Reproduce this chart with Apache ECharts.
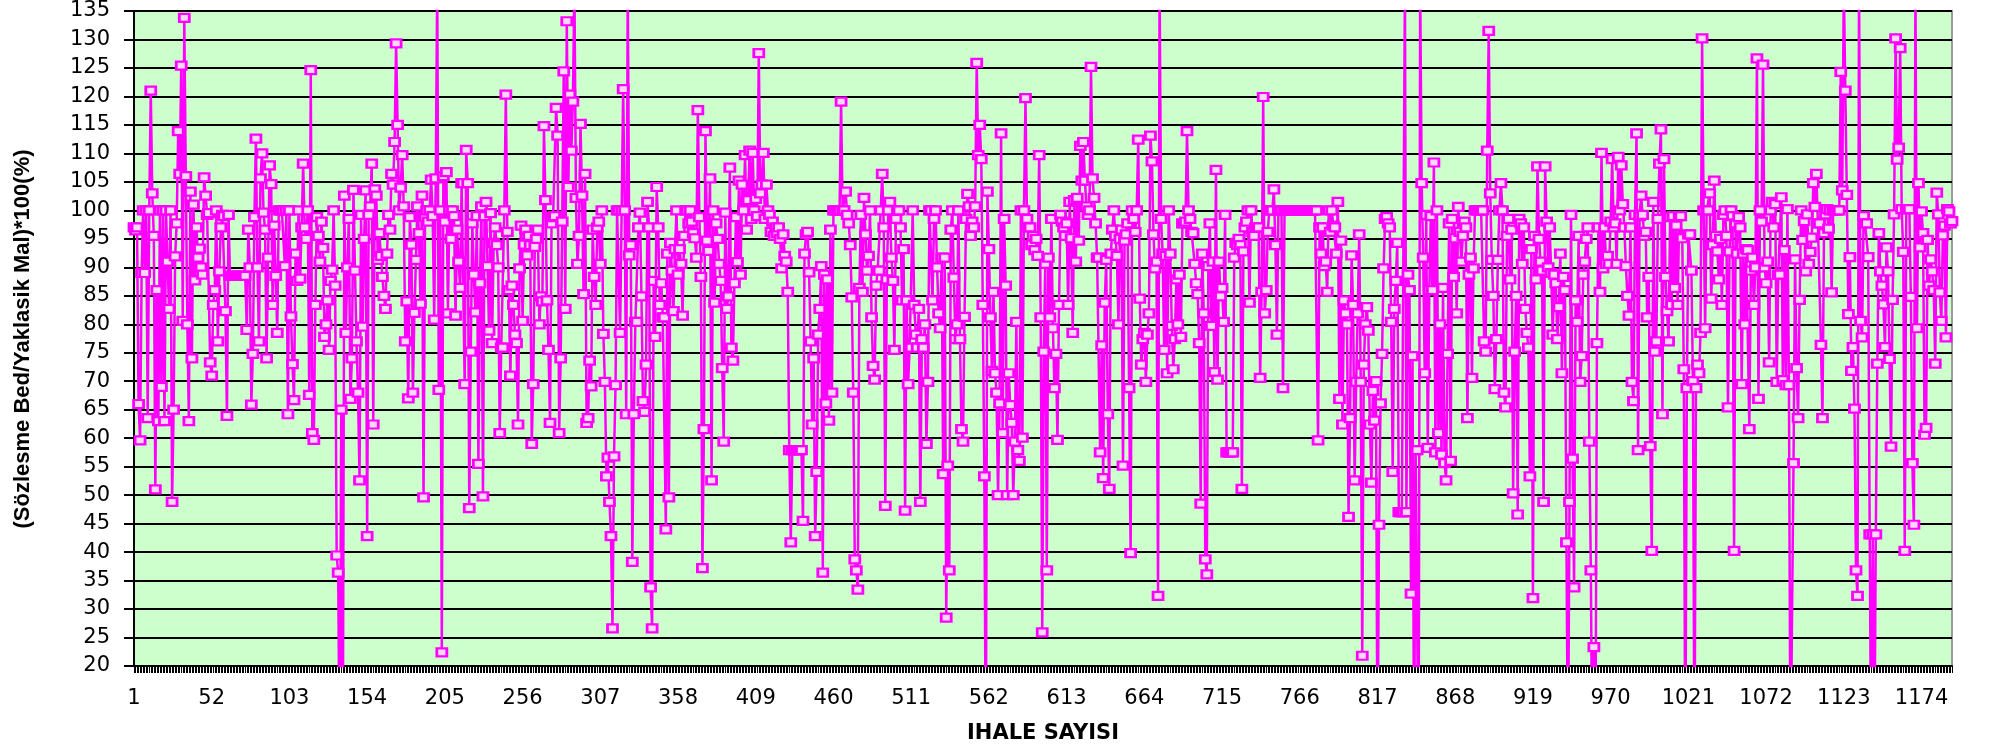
<!DOCTYPE html>
<html><head><meta charset="utf-8">
<script src="https://cdn.jsdelivr.net/npm/echarts@6/dist/echarts.min.js"></script>
<style>html,body{margin:0;padding:0;background:#fff}#c{width:2004px;height:749px}</style>
</head><body><div id="c"></div>
<script>
// values per stretch of the x axis (values below 20 / above 135 fall outside the plot)
const seg01 = [97,96.5,97,66,59.6,89,100,89,100,63.5, 100,121,103,95.5,51,86,63,100,69,100, 63,100,91,82.7,100,48.8,65,91.9,97.7,113.9, 106.4,125.4,80.6,133.8,106,80,63,103.3,74,101, 87.7,97,91.7,93.3,90,88.7,105.8,102.6,99.2,99.5, 73.3,71,83.4,86,100,77,89.3,97,99.2,99, 82.3,63.9,99.2,88.5,88.5,88.5,88.5,88.5,88.5,88.5, 88.5,88.5,88.5,88.5,79,96.6,90,65.9,74.8,98.8, 112.6,90,77,105.6,110,99.6,96.6,74,91.7,107.9, 104.6,83.4,97.3,88.5,78.5,100,100,100,100,90.2, 100,64.2,100,81.4,73,66.7,92.4,87.6];
const seg02 = [100,88,97,108.2,97,95,100,67.6,124.6,60.9, 59.7,83.4,98.8,95.5,91,98,93.4,77.8,80,84.2, 75.5,87.6,89.6,100,86.8,39.4,36.4,0,65,0, 102.6,78.5,90,98.5,66.9,74,103.6,89.4,77,68, 52.6,99.2,79.6,95,103.5,42.8,99.2,100.7,108.2,62.4, 103.7,102.6,91.3,96,92,88.3,85,82.7,92.4,99.2, 96.6,106.4,104.5,112,129.3,115,100,104,109.7,100.7, 77,84,67,98.8,94,68,82,91.3,100.7,96, 83.6,102.6,49.6,98.8,100,98,100,105.4,99,80.8, 105.6,140,68.5,100,22.4,106,98,106.7,81.9,100, 95,100,99,81.5,96.6,91,86.4,104.8];
const seg03 = [104.8,69.5,110.6,104.8,47.7,75.2,97.7,88.7,82.1,99, 55.5,87.2,100.7,49.8,99,101.5,90.2,78.9,99.5,76.7, 94.3,97,93.9,90,60.9,75.9,75.9,100,120.3,96.2, 86,71,86.8,83.4,78.2,76.7,62.4,89.8,97.3,80.6, 94,96.6,92.1,95.5,93.9,59,69.5,93.6,95,96.6, 80,84.9,84,114.8,101.8,84.2,75.5,62.7,97.7,98.8, 99,118,113.1,60.9,74,98,124.4,82.7,133.2,104.1, 120.3,110.5,119.1,140,102.2,90.6,95.5,115.2,102.6,85.3, 106.4,62.7,63.5,73.6,69.1,96.6,88.3,83.4,97,98, 90.6,100,78.3,69.9,53.3,56.6,48.8,42.8,26.6,56.8, 69.3,100,100,78.5,100,121.3,100,64.2];
const seg04 = [140,92.1,93.9,38.3,64.2,80.4,80.4,97,99.6,84.9, 66.5,64.6,72.9,101.5,97,33.8,26.6,87.6,77.8,104.1, 97,83.4,87.2,81.2,81.2,44,92.4,49.6,94.3,89.4, 82.3,93.2,100,88.7,93.2,90.6,81.5,95.5,100,100, 97.7,100,98,96,95.1,91.7,117.6,98.8,88.3,37.2, 61.6,113.9,94.7,92.9,105.6,52.6,100,83.8,97.7,95, 90.6,87.6,72.3,59.4,99.6,82.7,84.9,107.5,75.9,73.6, 87.2,98.8,90.9,105.2,88.7,104.5,100,109.7,96.6,101.8, 110.5,98.5,110.1,100,102,99,127.6,103,104.5,110.1, 98.5,104.5,100,99.2,96.2,98,95.5,97,96,97, 95,89.8,95.8,92,91,85.7,57.9,41.7];
const seg05 = [57.9,57.9,57.9,57.9,57.9,57.9,57.9,45.5,92.4,95.8, 96.2,89.1,77,62.4,74,42.8,54.1,78.2,82.7,90.2, 36.4,88.7,66.1,87.9,63.1,96.6,68,100,100,100, 100,100,119.1,100,100,103.3,99.2,97.7,93.9,84.7, 68,38.7,36.8,33.4,86.4,99.2,85.7,102.2,95.8,89.4, 92,100,81.2,72.7,70.3,86.8,89.4,89.4,100,106.4, 97,48.1,87.9,100,101.5,91.7,87.6,75.5,98.5,100, 100,97,84.2,93.2,47.3,84.2,69.5,75.9,75.9,100, 83.4,78.2,75.9,82.7,48.8,77.4,75.9,80,59,69.9, 100,100,84.2,98.5,100,90,81.9,79.3,91.7,53.7, 91.7,28.5,55.2,36.8,96.6,100,88.2,77.4];
const seg06 = [80,100,77.4,61.6,59.4,81.3,98.5,102.9,100.7,95.5, 98,97,100.7,125.9,109.7,115,109,83.4,53.3,0, 103.3,93.2,81.2,71.8,85.7,71.4,68,50,66.1,113.5, 60.9,98.5,86.8,50,71.4,65.8,62.7,50,59.4,80.4, 57.9,56,100,60.1,100,119.7,98.5,97,97,93.9, 95.5,93,95,92,109.7,81.2,25.9,75.2,90.6,36.8, 91.7,81.2,98.5,79.3,68.8,74.8,59.7,83.4,99.2,98, 97,95.5,97.7,83.4,101.5,95.1,78.5,101.8,91,102.2, 94.7,111.3,105.2,112,105.2,100.7,99.2,100,125.2,105.6, 102.2,97.7,91.7,91.7,57.5,76.3,53,83.8,91.3,64.2, 51.1,92.4,96.6,100,95.5,92,80,95];
const seg07 = [96.6,55.2,94.7,95.8,97.7,68.8,39.8,100,98.5,96.2, 100,112.4,84.5,72.9,77.4,78.5,69.9,78.2,81.9,113.1, 108.6,95.8,89.8,91,32.3,140,98.5,92.4,75.5,92, 71.4,100,92.4,79.7,72.1,77.4,87.9,80,88.7,77.8, 97.7,97.7,98,113.9,100,98.5,96.2,96,90.6,87.2, 85.3,76.7,48.5,92.4,81.9,38.7,36.1,90.2,97.7,79.7, 91,71.6,107.1,70.3,91,84.9,86.4,80.4,99.2,57.5, 57.5,57.5,57.5,57.5,91.7,94.3,93.9,95,93.9,51.1, 92.8,97,98,100,83.8,100,96.2,95.5,97,97, 97,70.6,85.7,119.9,81.9,86,96.2,100,100,100, 103.7,93.9,78.2,100,100,100,68.8,100];
const seg08 = [100,100,100,100,100,100,100,100,100,100, 100,100,100,100,100,100,100,100,100,100, 100,59.6,97,92.4,97,90.2,91,85.7,100,96.2, 100,97.3,97,92.4,101.5,66.9,94.7,62.4,84.2,81.9, 80,46.2,63.5,92.1,83.4,52.6,69.9,81.9,95.8,69.9, 21.8,72.9,80,83,78.9,62.4,52.2,68.3,63.1,70, 0,44.8,66.1,74.8,89.8,98.5,98.8,97.7,97,80.4, 54.1,82.7,87.6,94.3,47,47,47,47,140,47, 88.7,86,32.7,74.4,0,57.9,57.9,0,140,104.8, 91.7,71.4,99.2,58.3,86,99,86,108.4,57.5,100, 60.9,80,57.1,86.4,55.6,52.6,74.8,97.7];
const seg09 = [56,98.5,88.3,95.1,81.9,100.6,96.2,91,95.5,98, 97,63.5,88.7,91.7,70.6,89.8,100,100,100,100, 100,100,77,75.2,110.5,131.5,103,91.3,85,68.6, 77.4,91.3,100,104.8,100,68,65.4,95.5,98.5,87.9, 96.6,50.3,75.2,85,46.6,98.5,97.7,90.6,97,82.7, 78.5,75.9,53.3,93.2,31.9,95.5,87.9,107.7,95,91, 89.4,48.8,107.7,98,90,97,89,78.2,88.7,87.2, 77.4,83,92.4,71.4,88.3,86,41.7,0,48.8,99.2, 56.4,33.8,84.2,80.4,95.5,69.9,74.4,88.7,91,95, 97,59.4,36.8,0,23.3,0,76.7,97,85.7,110.1, 89.8,97,90.6,92,90.6,98,109,97];
const seg10 = [97.7,90.6,109.4,100,107.9,101.1,97,90.2,85,81.5, 97,69.9,66.5,99.2,113.5,57.9,99,102.6,99.2,95.5, 96.2,81.2,88.3,58.6,40.2,101.5,75.2,77,98.5,108.2, 114.2,64.2,109,88.3,82.3,77,98.8,83.4,99,86.4, 97.3,83.4,99,99,95.1,72.1,0,68.8,95.8,95.8, 89.4,70,0,68.8,72.9,71.4,78.5,130.2,100,79.3, 100,100,103,84.5,93.9,105.2,95.5,92.8,87.9,95, 83.4,99.2,100,95.5,65.4,92.8,100,99,40.2,97.7, 92.4,98.8,97,69.5,92.4,80,93.2,93,61.6,89.4, 91.7,83.4,90,126.7,66.9,100,98,125.6,90,87.2, 91,73.3,100,101.5,97,101.1,69.9,88.7];
const seg11 = [88.7,102.3,70.2,93,69.3,100.2,69.3,0,0,55.6, 91.4,72.3,63.5,84.3,100,94.8,98.1,89.3,99.3,90.6, 92.7,95.2,104.8,100.6,106.4,97.7,97.7,76.4,63.5,96, 99.3,100.2,96.8,100,85.6,100,100,100,100,100, 124.3,103.5,140,121,102.7,81.8,91.8,71.8,76,65.2, 36.8,32.3,140,80.6,77.7,99,97.7,97.7,91.8,43.1, 0,43.1,0,43.1,73.1,96,89.3,86.8,83.5,76, 93.5,89.3,73.9,58.5,84.3,99.3,130.2,108.9,111,128.5, 100.2,92.7,40.2,100.2,100.2,100.2,84.8,55.6,44.8,140, 79.3,104.8,93.5,99.8,96,60.6,61.8,94.8,86.8,91.4, 89.3,86,73.1,103.1,99.3,85.6,80.6,95.6,97.3,77.7, 100.2,99.8,97.7,98.1];

const values = [].concat(seg01, seg02, seg03, seg04, seg05, seg06, seg07, seg08, seg09, seg10, seg11);
const categories = values.map((_, i) => String(i + 1));
const yMin = 20, yMax = 135, yStep = 5;
const xLabelEvery = 51;
const yTitle = '(Sözlesme Bed/Yaklasik Mal)*100(%)';
const xTitle = 'IHALE SAYISI';

const chart = echarts.init(document.getElementById('c'), null, {renderer: 'canvas'});
chart.setOption({
  animation: false,
  backgroundColor: '#ffffff',
  grid: {left: 134, right: 52, top: 11, bottom: 83, show: true,
         backgroundColor: '#CCFFCC', borderColor: '#9a9a9a', borderWidth: 2},
  xAxis: {
    type: 'category', data: categories, boundaryGap: false,
    axisLine: {lineStyle: {color: '#000', width: 2}},
    axisTick: {show: true, interval: 0, length: 7, lineStyle: {color: '#000', width: 1}},
    axisLabel: {interval: xLabelEvery - 1, color: '#000', fontFamily: 'DejaVu Sans', fontSize: 21, margin: 22},
    splitLine: {show: false}
  },
  yAxis: {
    type: 'value', min: yMin, max: yMax, interval: yStep,
    axisLine: {show: true, lineStyle: {color: '#000', width: 2}},
    axisTick: {show: true, length: 10, lineStyle: {color: '#000', width: 2}},
    axisLabel: {color: '#000', fontFamily: 'DejaVu Sans', fontSize: 21, margin: 24},
    splitLine: {show: true, lineStyle: {color: '#000', width: 2}}
  },
  series: [{
    type: 'line', data: values, clip: true,
    symbol: 'rect', symbolSize: [10, 8], showAllSymbol: true,
    lineStyle: {color: '#FF00FF', width: 2.5},
    itemStyle: {color: '#FFD6FF', borderColor: '#FF00FF', borderWidth: 2.5}
  }],
  graphic: [
    {type: 'text', x: 23, y: 339, rotation: Math.PI / 2,
     style: {text: yTitle, font: 'bold 22px "Liberation Sans"', fill: '#000',
             textAlign: 'center', textVerticalAlign: 'middle'}},
    {type: 'text', x: 1043, y: 734,
     style: {text: xTitle, font: 'bold 21px "DejaVu Sans"', fill: '#000',
             textAlign: 'center', textVerticalAlign: 'middle'}}
  ]
});
</script>
</body></html>
